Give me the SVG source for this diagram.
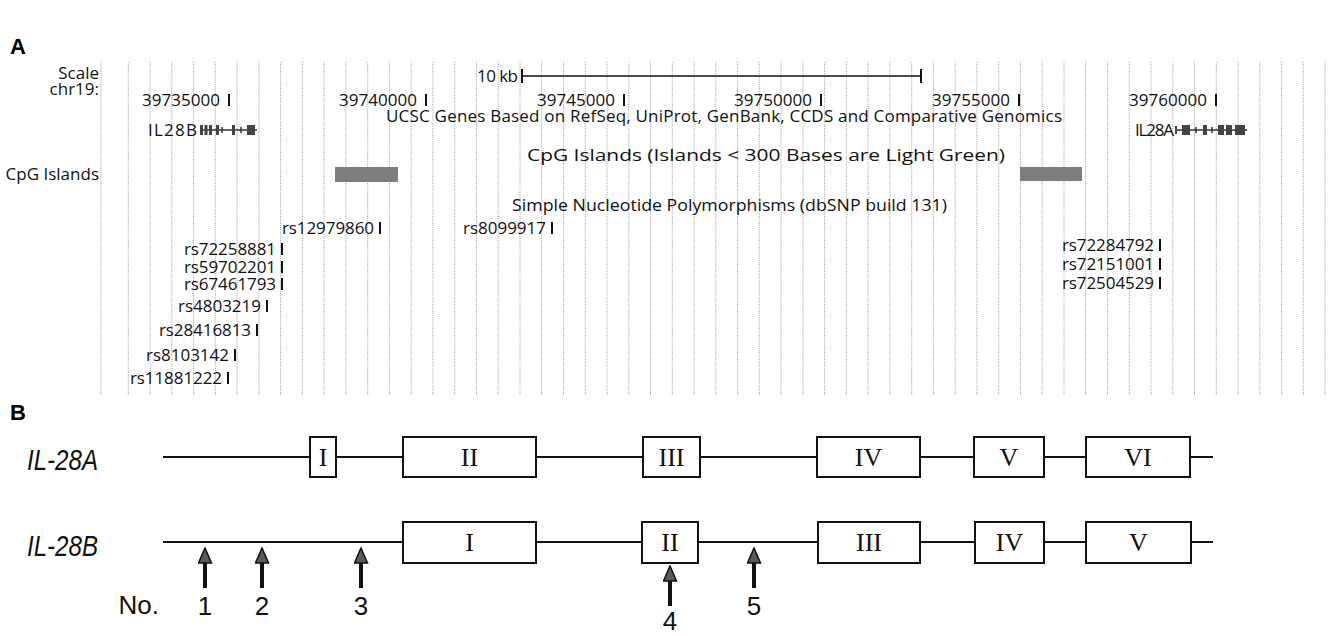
<svg xmlns="http://www.w3.org/2000/svg" width="1336" height="636" viewBox="0 0 1336 636">
<style>
.t{font-family:"Open Sans","Noto Sans",sans-serif;font-size:17px;fill:#111}
.grid{stroke:#999;stroke-width:1;stroke-dasharray:1 1.2;fill:none}
.tk{fill:#111}
.lbl{font-family:"Liberation Sans",Arial,sans-serif;font-weight:bold;font-size:22px;fill:#000}
.gene{font-family:"Liberation Sans",Arial,sans-serif;font-style:italic;font-size:30px;fill:#111}
.ex{fill:#fff;stroke:#111;stroke-width:2}
.rn{font-family:"Liberation Serif","Times New Roman",serif;font-size:26px;text-anchor:middle;fill:#111}
.num{font-family:"Liberation Sans",Arial,sans-serif;font-size:26px;text-anchor:middle;fill:#111}
.gl{stroke:#111;stroke-width:2;fill:none}
.gx{fill:#444}
.cpg{fill:#7e7e7e}
.arr{stroke:#111;stroke-width:4;fill:none;marker-end:url(#head)}
</style>
<defs>
<marker id="head" markerUnits="userSpaceOnUse" viewBox="0 0 17 15" markerWidth="17" markerHeight="15" refX="1" refY="7.5" orient="auto">
<path d="M1,1 L16,7.5 L1,14 Z" fill="#5a5a5a" stroke="#111" stroke-width="1.5"/>
</marker>
</defs>
<rect width="1336" height="636" fill="#fff"/>

<g id="panelA">
<text class="lbl" x="10" y="54">A</text>
<path class="grid" d="M101 62V395M128.3 62V395M150.1 62V395M171.8 62V395M193.6 62V395M215.3 62V395M237.1 62V395M258.9 62V395M280.6 62V395M302.4 62V395M324.1 62V395M345.9 62V395M367.7 62V395M389.4 62V395M411.2 62V395M432.9 62V395M454.7 62V395M476.5 62V395M498.2 62V395M520 62V395M541.7 62V395M563.5 62V395M585.3 62V395M607 62V395M628.8 62V395M650.5 62V395M672.3 62V395M694.1 62V395M715.8 62V395M737.6 62V395M759.3 62V395M781.1 62V395M802.9 62V395M824.6 62V395M846.4 62V395M868.1 62V395M889.9 62V395M911.7 62V395M933.4 62V395M955.2 62V395M976.9 62V395M998.7 62V395M1020.5 62V395M1042.2 62V395M1064 62V395M1085.7 62V395M1107.5 62V395M1129.3 62V395M1151 62V395M1172.8 62V395M1194.5 62V395M1216.3 62V395M1238.1 62V395M1259.8 62V395M1281.6 62V395M1303.3 62V395M1325.1 62V395"/>

<g id="axis">
<text class="t" x="99" y="79" text-anchor="end">Scale</text>
<text class="t" x="99" y="95" text-anchor="end">chr19:</text>
<text class="t" x="477" y="82" textLength="41">10 kb</text>
<path d="M522 76H921" stroke="#111" stroke-width="1.5"/>
<rect class="tk" x="521" y="69" width="2" height="14"/>
<rect class="tk" x="920" y="69" width="2" height="14"/>
<text class="t" x="142" y="106" textLength="78">39735000</text><rect class="tk" x="228" y="94" width="2" height="12"/>
<text class="t" x="339" y="106" textLength="78">39740000</text><rect class="tk" x="425" y="94" width="2" height="12"/>
<text class="t" x="537" y="106" textLength="78">39745000</text><rect class="tk" x="623" y="94" width="2" height="12"/>
<text class="t" x="734" y="106" textLength="78">39750000</text><rect class="tk" x="820" y="94" width="2" height="12"/>
<text class="t" x="932" y="106" textLength="78">39755000</text><rect class="tk" x="1018" y="94" width="2" height="12"/>
<text class="t" x="1129" y="106" textLength="78">39760000</text><rect class="tk" x="1215" y="94" width="2" height="12"/>
</g>

<g id="genes-track">
<text class="t" x="386" y="122" textLength="676">UCSC Genes Based on RefSeq, UniProt, GenBank, CCDS and Comparative Genomics</text>
<text class="t" x="148" y="136" textLength="49">IL28B</text>
<path d="M200 130H257M222 127V133M241 127V133" stroke="#333" stroke-width="1.5"/>
<rect class="gx" x="200" y="125" width="3" height="10"/><rect class="gx" x="204.5" y="125" width="3" height="10"/><rect class="gx" x="209" y="125" width="3" height="10"/>
<rect class="gx" x="216" y="125" width="3" height="10"/><rect class="gx" x="232" y="125" width="3" height="10"/><rect class="gx" x="247" y="125" width="8" height="10"/>
<text class="t" x="1135" y="136" textLength="39">IL28A</text>
<path d="M1175 130H1247M1196 127V133M1212 127V133" stroke="#333" stroke-width="1.5"/>
<rect class="gx" x="1175" y="126" width="2" height="8"/>
<rect class="gx" x="1182" y="125" width="8" height="10"/><rect class="gx" x="1203" y="125" width="4" height="10"/>
<rect class="gx" x="1218" y="125" width="6" height="10"/><rect class="gx" x="1226" y="125" width="6" height="10"/><rect class="gx" x="1235" y="125" width="10" height="10"/>
</g>

<g id="cpg-track">
<text class="t" x="527" y="161" textLength="478" lengthAdjust="spacingAndGlyphs">CpG Islands (Islands &lt; 300 Bases are Light Green)</text>
<text class="t" x="99" y="180" text-anchor="end">CpG Islands</text>
<rect class="cpg" x="335" y="167" width="63" height="15"/>
<rect class="cpg" x="1020" y="167" width="62" height="14"/>
</g>

<g id="snp-track">
<text class="t" x="512" y="211" textLength="435" lengthAdjust="spacingAndGlyphs">Simple Nucleotide Polymorphisms (dbSNP build 131)</text>
<text class="t" x="374" y="234" text-anchor="end" textLength="92">rs12979860</text><rect class="tk" x="379" y="222" width="2" height="12"/>
<text class="t" x="546" y="234" text-anchor="end" textLength="83">rs8099917</text><rect class="tk" x="551" y="222" width="2" height="12"/>
<text class="t" x="276" y="255" text-anchor="end" textLength="92">rs72258881</text><rect class="tk" x="281" y="243" width="2" height="12"/>
<text class="t" x="276" y="273" text-anchor="end" textLength="92">rs59702201</text><rect class="tk" x="281" y="261" width="2" height="12"/>
<text class="t" x="276" y="290" text-anchor="end" textLength="92">rs67461793</text><rect class="tk" x="281" y="278" width="2" height="12"/>
<text class="t" x="261" y="312" text-anchor="end" textLength="83">rs4803219</text><rect class="tk" x="266" y="300" width="2" height="12"/>
<text class="t" x="251" y="336" text-anchor="end" textLength="92">rs28416813</text><rect class="tk" x="256" y="324" width="2" height="12"/>
<text class="t" x="229" y="361" text-anchor="end" textLength="83">rs8103142</text><rect class="tk" x="234" y="349" width="2" height="12"/>
<text class="t" x="222" y="384" text-anchor="end" textLength="92">rs11881222</text><rect class="tk" x="227" y="372" width="2" height="12"/>
<text class="t" x="1154" y="251" text-anchor="end" textLength="92">rs72284792</text><rect class="tk" x="1159" y="239" width="2" height="12"/>
<text class="t" x="1154" y="270" text-anchor="end" textLength="92">rs72151001</text><rect class="tk" x="1159" y="258" width="2" height="12"/>
<text class="t" x="1154" y="289" text-anchor="end" textLength="92">rs72504529</text><rect class="tk" x="1159" y="277" width="2" height="12"/>
</g>
</g>

<g id="panelB">
<text class="lbl" x="10" y="420">B</text>
<text class="gene" x="27" y="470" textLength="71" lengthAdjust="spacingAndGlyphs">IL-28A</text>
<text class="gene" x="27" y="556" textLength="71" lengthAdjust="spacingAndGlyphs">IL-28B</text>
<text class="num" x="159" y="614" style="text-anchor:end">No.</text>

<g id="connectors">
<path class="gl" d="M163 457H1213"/>
<path class="gl" d="M163 542H1213"/>
<path class="arr" d="M205 588V563"/>
<path class="arr" d="M262 588V563"/>
<path class="arr" d="M361 588V563"/>
<path class="arr" d="M670 606V581"/>
<path class="arr" d="M754 588V563"/>
</g>

<g id="a-ex1"><rect class="ex" x="310" y="437" width="26" height="40"/><text class="rn" x="323" y="466">I</text></g>
<g id="a-ex2"><rect class="ex" x="403" y="437" width="133" height="40"/><text class="rn" x="469.5" y="466">II</text></g>
<g id="a-ex3"><rect class="ex" x="643" y="437" width="57" height="40"/><text class="rn" x="671.5" y="466">III</text></g>
<g id="a-ex4"><rect class="ex" x="817" y="437" width="103" height="40"/><text class="rn" x="868.5" y="466">IV</text></g>
<g id="a-ex5"><rect class="ex" x="974" y="437" width="70" height="40"/><text class="rn" x="1009" y="466">V</text></g>
<g id="a-ex6"><rect class="ex" x="1086" y="437" width="104" height="40"/><text class="rn" x="1138" y="466">VI</text></g>

<g id="b-ex1"><rect class="ex" x="403" y="522" width="133" height="41"/><text class="rn" x="469.5" y="551">I</text></g>
<g id="b-ex2"><rect class="ex" x="642" y="522" width="56" height="41"/><text class="rn" x="670" y="551">II</text></g>
<g id="b-ex3"><rect class="ex" x="818" y="522" width="102" height="41"/><text class="rn" x="869" y="551">III</text></g>
<g id="b-ex4"><rect class="ex" x="975" y="522" width="69" height="41"/><text class="rn" x="1009.5" y="551">IV</text></g>
<g id="b-ex5"><rect class="ex" x="1086" y="522" width="105" height="41"/><text class="rn" x="1138.5" y="551">V</text></g>

<g id="labels">
<text class="num" x="205" y="615">1</text>
<text class="num" x="262" y="615">2</text>
<text class="num" x="361" y="615">3</text>
<text class="num" x="670" y="630">4</text>
<text class="num" x="754" y="615">5</text>
</g>
</g>
</svg>
